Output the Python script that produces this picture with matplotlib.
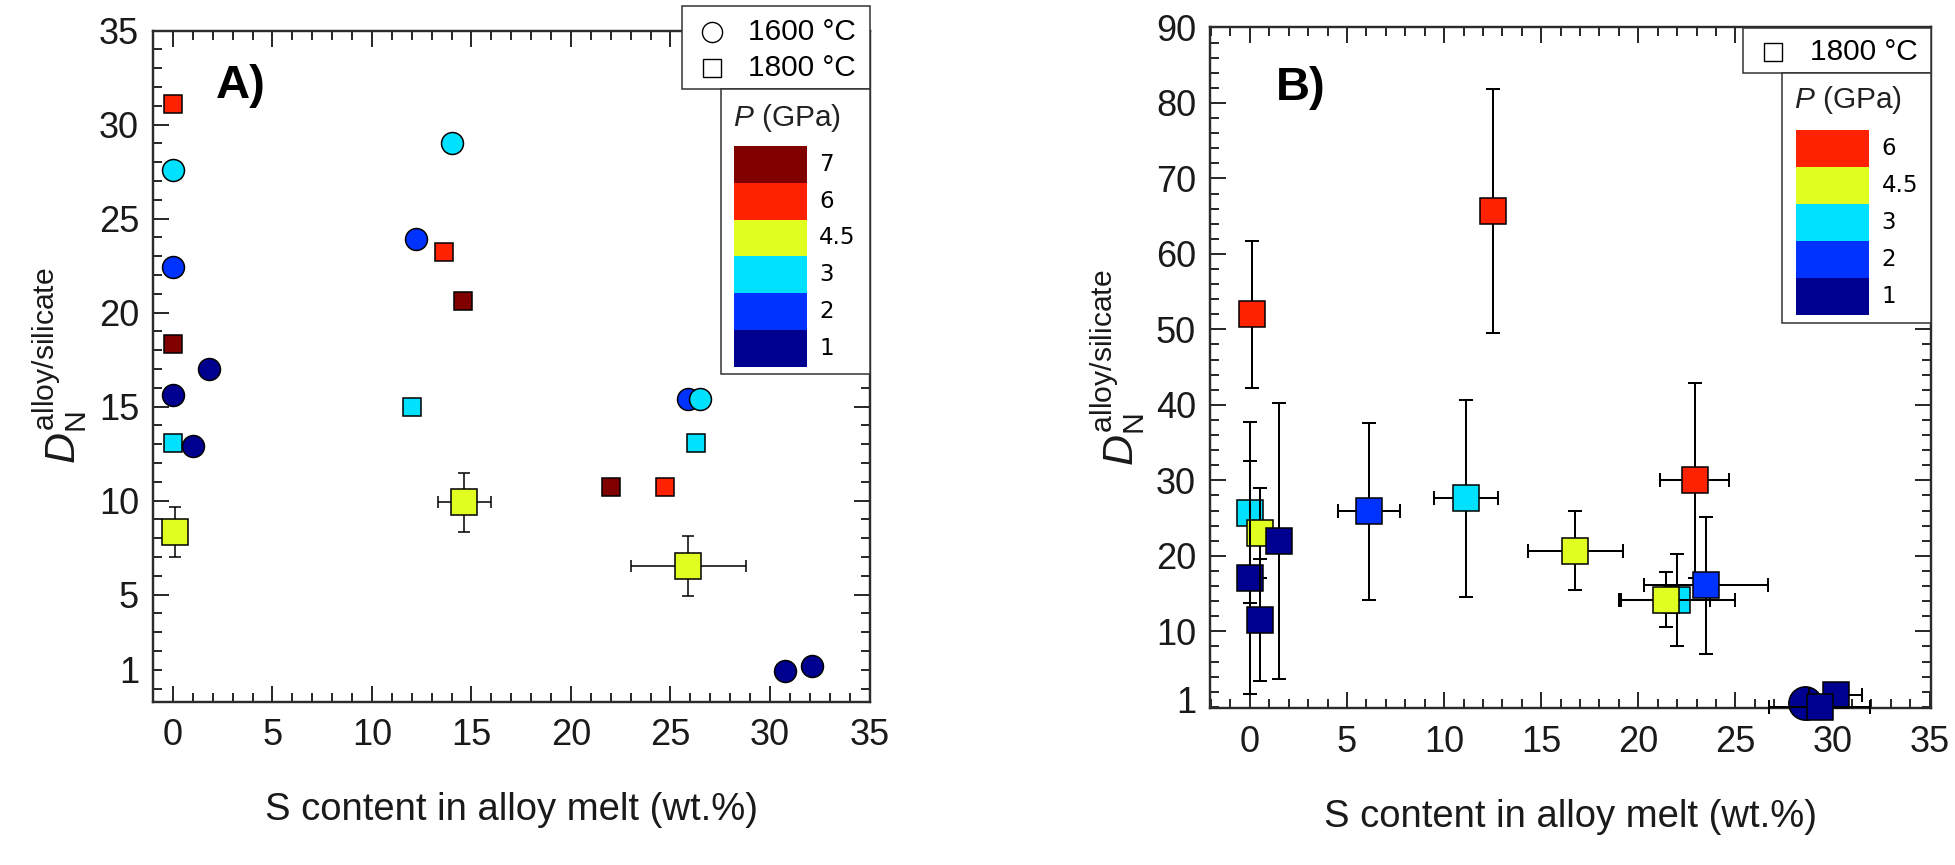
import matplotlib
matplotlib.use("Agg")
import matplotlib.pyplot as plt
from matplotlib.patches import Rectangle
from matplotlib.lines import Line2D
from matplotlib.ticker import MultipleLocator, FixedLocator

plt.rcParams['font.family'] = ['Liberation Sans', 'DejaVu Sans']
plt.rcParams['mathtext.fontset'] = 'custom'
plt.rcParams['mathtext.rm'] = 'Liberation Sans'
plt.rcParams['mathtext.it'] = 'Liberation Sans:italic'

# ---------------- data ----------------
# Panel A
A_x = [0.0, 0.0, 0.0, 0.0, 1.8, 0.0, 0.0, 1.0, 0.1,
       14.0, 12.2, 13.6, 14.6, 12.0, 14.65,
       25.9, 26.5, 26.3, 22.0, 24.75, 25.9, 30.75, 32.1]
A_y = [31.1, 27.6, 22.4, 18.3, 17.0, 15.6, 13.05, 12.9, 8.3,
       29.0, 23.9, 23.2, 20.6, 15.0, 9.9,
       15.4, 15.4, 13.05, 10.7, 10.7, 6.5, 0.95, 1.2]
A_P = [6, 3, 2, 7, 1, 1, 3, 1, 4.5,
       3, 2, 6, 7, 3, 4.5,
       2, 3, 3, 7, 6, 4.5, 1, 1]
A_T = [1800, 1600, 1600, 1800, 1600, 1600, 1800, 1600, 1800,
       1600, 1600, 1800, 1800, 1800, 1800,
       1600, 1600, 1800, 1800, 1800, 1800, 1600, 1600]
A_xerr = [0, 0, 0, 0, 0, 0, 0, 0, 0,
          0, 0, 0, 0, 0, 1.35,
          0, 0, 0, 0, 0, 2.9, 0, 0]
A_yerr = [0, 0, 0, 0, 0, 0, 0, 0, 1.33,
          0, 0, 0, 0, 0, 1.55,
          0, 0, 0, 0, 0, 1.6, 0, 0]

# Panel B
B_x = [0.1, 12.5, 0.0, 0.5, 1.5, 0.0, 0.5, 6.15, 11.15, 16.75,
       22.9, 22.0, 21.4, 23.5, 28.6, 30.15, 29.35]
B_y = [52.0, 65.7, 25.7, 23.0, 22.0, 17.1, 11.5, 25.9, 27.6, 20.7,
       30.0, 14.2, 14.2, 16.1, 0.5, 1.6, 0.0]
B_P = [6, 6, 3, 4.5, 1, 1, 1, 2, 3, 4.5,
       6, 3, 4.5, 2, 1, 1, 1]
B_T = [1800, 1800, 1800, 1800, 1800, 1800, 1800, 1800, 1800, 1800,
       1800, 1800, 1800, 1800, 1600, 1800, 1800]
B_xerr = [0, 0, 0, 0, 0, 0, 0, 1.6, 1.65, 2.45,
          1.77, 3.0, 2.3, 3.2, 0, 1.35, 2.6]
B_yerr = [9.7, 16.2, 12.0, 6.0, 18.3, 15.4, 8.1, 11.7, 13.1, 5.2,
          12.9, 6.1, 3.6, 9.1, 0, 0, 0]

A_legend_P = ['7', '6', '4.5', '3', '2', '1']
B_legend_P = ['6', '4.5', '3', '2', '1']
P_colors = {7: '#800000', 6: '#FF2200', 4.5: '#E0FF20', 3: '#00E0FF',
            2: '#0033FF', 1: '#000090'}

xlabel = 'S content in alloy melt (wt.%)'
ylabel = r'$\mathit{D}_{\mathrm{N}}^{\mathrm{alloy/silicate}}$'

# ---------------- figure ----------------
W, H = 1955, 865
fig = plt.figure(figsize=(W / 100, H / 100), dpi=100)

def fx(px):
    return px / W

def fy(py):
    return 1 - py / H

axA = fig.add_axes([fx(153), fy(701.7), (869.5 - 153) / W, (701.7 - 30.5) / H])
axB = fig.add_axes([fx(1210), fy(708.3), (1930.7 - 1210) / W, (708.3 - 26.7) / H])

spine_col = '#2b2b2b'
px2pt = 0.72


def style_axes(ax):
    for s in ax.spines.values():
        s.set_linewidth(2.4 * px2pt)
        s.set_color(spine_col)
    ax.tick_params(which='both', direction='in', top=True, right=True,
                   color=spine_col, width=2.0 * px2pt, labelsize=26,
                   labelcolor='#1a1a1a')
    ax.tick_params(which='major', length=16 * px2pt)
    ax.tick_params(which='minor', length=9 * px2pt)
    ax.tick_params(axis='x', pad=12)
    ax.tick_params(axis='y', pad=10)


def draw_points(ax, xs, ys, Ps, Ts, xe, ye, sizes, elw, cap):
    for i, (x, y, p, t, dx, dy) in enumerate(zip(xs, ys, Ps, Ts, xe, ye)):
        z = 3 + i * 0.01
        if dx or dy:
            ax.errorbar([x], [y], xerr=[dx] if dx else None, yerr=[dy] if dy else None,
                        fmt='none', ecolor='black', elinewidth=elw, capsize=cap,
                        capthick=elw, zorder=z, clip_on=False)
        big = bool(dx or dy)
        marker = 'o' if t == 1600 else 's'
        ms = sizes[(marker, big)]
        ax.plot([x], [y], marker=marker, ms=ms, mfc=P_colors[p], mec='black',
                mew=1.1, ls='none', zorder=z + 0.005, clip_on=False)


# ---- Panel A ----
style_axes(axA)
axA.set_xlim(-1, 35)
axA.set_ylim(-0.7, 35)
axA.xaxis.set_major_locator(FixedLocator([0, 5, 10, 15, 20, 25, 30, 35]))
axA.xaxis.set_minor_locator(MultipleLocator(1))
axA.yaxis.set_major_locator(FixedLocator([1, 5, 10, 15, 20, 25, 30, 35]))
axA.yaxis.set_minor_locator(MultipleLocator(1))
axA.set_yticklabels(['1', '5', '10', '15', '20', '25', '30', '35'])
t0 = axA.yaxis.get_major_ticks()[0]
t0.tick1line.set_markersize(9 * px2pt)
t0.tick2line.set_markersize(9 * px2pt)

sizesA = {('o', False): 15.8, ('s', False): 12.8, ('s', True): 18.7, ('o', True): 18.7}
draw_points(axA, A_x, A_y, A_P, A_T, A_xerr, A_yerr, sizesA, 1.1, 4.5)
axA.set_xlabel(xlabel, fontsize=27.5, labelpad=28, color='#1a1a1a')
axA.set_ylabel(ylabel, fontsize=31, labelpad=6, color='#1a1a1a')
axA.text(0.088, 0.9, 'A)', transform=axA.transAxes, fontsize=34,
         fontweight='bold', va='baseline', ha='left')

# ---- Panel B ----
style_axes(axB)
axB.set_xlim(-2.05, 35.05)
axB.set_ylim(-0.2, 90.1)
axB.xaxis.set_major_locator(FixedLocator([0, 5, 10, 15, 20, 25, 30, 35]))
axB.xaxis.set_minor_locator(MultipleLocator(1))
axB.yaxis.set_major_locator(FixedLocator([1, 10, 20, 30, 40, 50, 60, 70, 80, 90]))
axB.yaxis.set_minor_locator(MultipleLocator(2))
axB.set_yticklabels(['1', '10', '20', '30', '40', '50', '60', '70', '80', '90'])
t0 = axB.yaxis.get_major_ticks()[0]
t0.tick1line.set_markersize(0)
t0.tick2line.set_markersize(0)

sizesB = {('o', False): 24, ('s', False): 18.7, ('s', True): 18.7, ('o', True): 24}
draw_points(axB, B_x, B_y, B_P, B_T, B_xerr, B_yerr, sizesB, 1.45, 4.7)
axB.set_xlabel(xlabel, fontsize=27.5, labelpad=28, color='#1a1a1a')
axB.set_ylabel(ylabel, fontsize=31, labelpad=6, color='#1a1a1a')
axB.text(0.092, 0.893, 'B)', transform=axB.transAxes, fontsize=34,
         fontweight='bold', va='baseline', ha='left')


# ---------------- legends (figure pixel coordinates) ----------------
def box(x0, y0, x1, y1):
    r = Rectangle((fx(x0), fy(y1)), fx(x1) - fx(x0), fy(y0) - fy(y1),
                  transform=fig.transFigure, facecolor='white',
                  edgecolor='#333333', linewidth=1.1, zorder=10)
    fig.add_artist(r)


def marker_at(x, y, m, ms):
    fig.add_artist(Line2D([fx(x)], [fy(y)], transform=fig.transFigure, marker=m,
                          ms=ms, mfc='white', mec='black', mew=1.0, ls='none',
                          zorder=11))


def text_at(x, y, s, **kw):
    fig.text(fx(x), fy(y), s, zorder=12, **kw)


def color_legend(x0, y0, x1, y1, sw_x0, sw_x1, sw_y0, band_h, labels, lab_x, title_x, title_y):
    box(x0, y0, x1, y1)
    fig.text(fx(title_x), fy(title_y), r'$\mathit{P}$ (GPa)', fontsize=21.5,
             va='center', ha='left', zorder=12, color='#222222')
    for i, lab in enumerate(labels):
        p = float(lab)
        if p == int(p):
            p = int(p)
        top = sw_y0 + i * band_h
        fig.add_artist(Rectangle((fx(sw_x0), fy(top + band_h)), fx(sw_x1) - fx(sw_x0),
                                 band_h / H, transform=fig.transFigure,
                                 facecolor=P_colors[p], edgecolor='none', zorder=11))
        fig.text(fx(lab_x), fy(top + band_h / 2), lab, fontsize=16.5,
                 family='DejaVu Sans', va='center', ha='left', zorder=12)


# Panel A legends
box(681.7, 6, 870, 89)
marker_at(711.7, 31.7, 'o', 14.5)
marker_at(711.7, 68, 's', 13)
text_at(748, 31.7, '1600 °C', fontsize=21.5, va='center', ha='left')
text_at(748, 68, '1800 °C', fontsize=21.5, va='center', ha='left')
color_legend(720.7, 89, 870, 374, 734, 806.7, 146, 36.8, A_legend_P, 819, 733, 118)

# Panel B legends
box(1742.7, 28, 1930.7, 72.7)
marker_at(1772.7, 51.7, 's', 13)
text_at(1810, 51.7, '1800 °C', fontsize=21.5, va='center', ha='left')
color_legend(1782.3, 72.7, 1930.7, 322.7, 1796, 1868.7, 130, 36.9, B_legend_P, 1881.7, 1794, 100)

fig.savefig('out.png', dpi=100)
